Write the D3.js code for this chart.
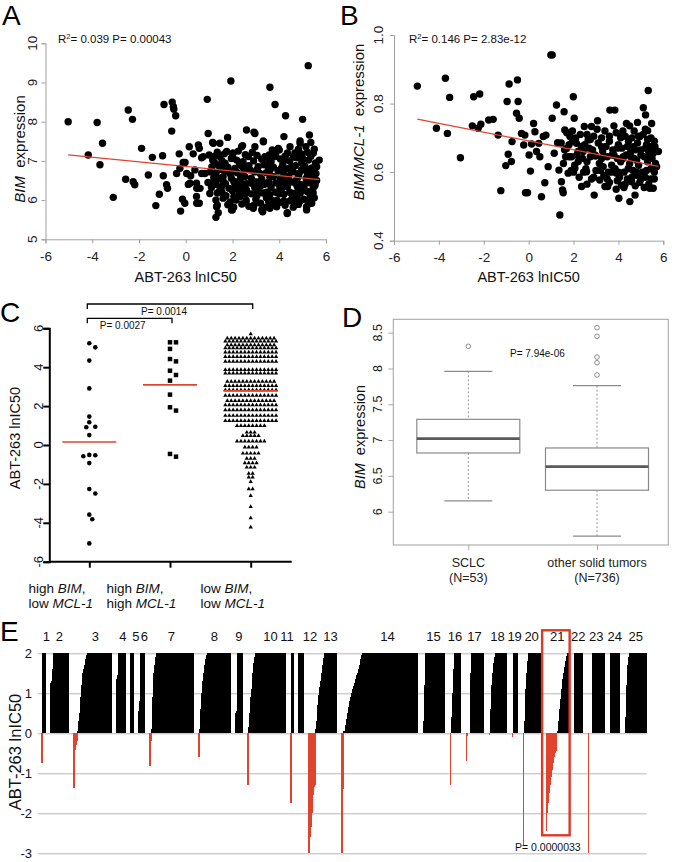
<!DOCTYPE html>
<html>
<head>
<meta charset="utf-8">
<script src="https://cdn.jsdelivr.net/npm/d3@7"></script>
<style>
  body { margin: 0; background: #fff; }
  svg { display: block; font-family: "Liberation Sans", Arial, sans-serif; }
</style>
</head>
<body>
<svg id="fig" width="675" height="862"></svg>
<script>
// ---------- data ----------

// A: ABT-263 lnIC50 vs BIM expression
const aPoints = [
  [-5.03,8.0],[-4.17,7.15],[-3.79,7.98],[-3.67,6.9],[-3.56,7.45],[-3.1,6.07],[-2.46,8.3],[-2.57,6.53],[-2.28,8.06],
  [-2.25,6.47],[-2.18,6.39],[-1.89,7.32],[-1.6,6.64],[-1.43,7.09],[-1.28,5.86],[-1.13,6.15],[-0.99,7.13],[-0.96,6.62],
  [-0.93,8.44],[-0.82,6.39],[-0.78,6.3],[-0.58,8.5],[-0.53,8.38],[-0.51,8.32],[-0.43,8.15],[-0.6,7.76],[-0.39,6.68],
  [-0.25,6.81],[-0.28,7.18],[-0.22,5.72],[-0.14,6.02],[-0.04,5.92],[-0.11,6.96],[0.04,6.68],[0.15,7.36],[0.18,6.43],
  [0.21,6.62],[0.32,7.18],[0.39,6.77],[0.46,6.43],[0.46,6.09],[0.54,7.41],[0.58,7.32],[0.61,6.3],[0.68,6.68],[0.58,5.92],
  [0.75,7.11],[0.82,6.68],[0.92,8.57],[0.96,7.7],[1.03,6.17],[1.0,7.15],[1.12,6.85],[1.18,7.45],[1.25,6.94],[1.18,6.47],
  [1.29,6.0],[1.32,5.83],[1.39,5.68],[1.29,5.56],[1.46,7.45],[1.46,7.11],[1.53,6.85],[1.53,6.34],[1.6,6.6],[1.68,6.94],
  [1.79,7.6],[1.75,7.24],[1.89,6.68],[1.93,9.04],[1.99,5.75],[2.03,7.2],[2.1,6.81],[2.18,6.3],[2.18,7.02],[2.25,6.47],
  [2.32,6.09],[2.39,7.36],[2.43,6.85],[2.53,6.6],[2.58,5.96],[2.6,7.79],[2.68,7.11],[2.75,6.77],[2.82,6.43],[2.89,5.79],
  [2.96,7.7],[2.96,7.36],[3.03,6.17],[3.1,6.85],[3.18,6.68],[3.25,5.75],[3.32,7.49],[3.39,7.11],[3.46,6.43],[3.53,6.85],
  [3.6,8.88],[3.67,6.0],[3.75,6.6],[3.82,8.44],[3.82,7.11],[3.89,5.83],[3.96,7.32],[4.03,6.77],[4.1,6.3],[4.2,7.62],
  [4.27,8.15],[4.25,7.02],[4.32,6.51],[4.35,5.68],[4.46,7.36],[4.53,6.85],[4.6,6.17],[4.67,7.2],[4.74,5.92],[4.82,6.6],
  [4.89,7.45],[4.96,6.94],[5.0,8.06],[5.06,6.34],[5.14,7.36],[5.17,5.83],[5.24,9.43],[5.29,7.66],[5.35,6.68],[5.39,6.0],
  [5.46,7.2],[5.53,6.43],[5.57,6.68],[5.71,7.02],[5.39,5.92],
  [2.92,7.73],[3.32,7.51],[4.89,7.51],[5.35,7.47],[1.15,7.47],[0.68,7.08],[-0.03,6.96],[2.43,7.39],[3.57,7.15],[4.0,7.28],
  [4.82,7.3],[5.2,7.22],[5.53,6.37],[5.17,5.75],[4.82,5.89],[4.34,5.66],[4.0,5.94],[3.6,5.79],[3.29,5.7],[2.92,5.87],
  [2.58,6.0],[2.06,6.09],[1.96,5.75],[1.35,5.87],[0.47,5.92],[0.11,6.4],[0.47,6.3],[1.46,6.26],[1.72,6.11],[2.1,6.39],
  [2.6,6.26],[3.1,6.26],[3.46,6.2],[4.03,6.3],[5.03,6.26],[5.32,6.13],[4.46,5.98],[4.25,5.87],
  [1.35,7.22],[2.25,7.25],[2.85,7.22],[3.7,7.28],[4.35,7.2],[4.95,7.18],[5.5,7.3],
  [1.15,7.02],[1.55,7.0],[1.95,7.06],[2.45,6.98],[2.9,7.0],[3.25,7.04],[3.65,6.98],[4.05,7.05],[4.45,7.0],[4.75,7.08],[5.25,7.02],[5.55,6.95],
  [1.4,6.88],[1.8,6.84],[2.3,6.9],[2.6,6.86],[3.35,6.9],[3.75,6.84],[4.15,6.9],[4.35,6.8],[4.7,6.88],[5.1,6.86],[5.4,6.82],
  [1.05,6.72],[1.3,6.7],[1.75,6.74],[2.2,6.7],[2.5,6.76],[2.95,6.72],[3.45,6.7],[3.95,6.74],[4.2,6.66],[4.6,6.72],[4.95,6.76],[5.2,6.7],
  [1.2,6.58],[1.45,6.55],[1.95,6.56],[2.35,6.6],[2.8,6.56],[3.25,6.54],[3.6,6.58],[4.05,6.55],[4.4,6.6],[4.75,6.52],[5.15,6.56],[5.45,6.58],
  [0.95,6.45],[1.7,6.42],[2.05,6.48],[2.6,6.42],[3.05,6.46],[3.35,6.4],[3.85,6.44],[4.2,6.42],[4.55,6.46],[4.9,6.4],[5.3,6.44],
  [1.1,6.32],[1.85,6.3],[2.45,6.34],[2.95,6.32],[3.65,6.32],[4.35,6.34],[4.8,6.3],[5.45,6.3],
  [1.35,6.18],[2.3,6.2],[2.8,6.16],[3.3,6.18],[3.85,6.2],[4.2,6.15],[4.9,6.18],[5.2,6.22],
  [1.6,6.05],[2.15,6.0],[3.0,6.02],[3.45,6.06],[3.9,6.0],[4.55,6.04],[5.05,6.02],[5.5,6.06],
  [1.8,5.88],[2.7,5.84],[3.8,5.88],[4.6,5.82],[5.25,5.9],
  [1.25,7.12],[1.65,7.18],[2.0,7.12],[2.55,7.16],[3.05,7.14],[3.55,7.02],[3.85,7.18],[4.25,7.12],[4.6,7.1],[5.0,7.06],[5.35,7.12],
  [1.55,6.78],[1.95,6.7],[2.7,6.88],[3.05,6.78],[3.6,6.76],[4.1,6.82],[4.5,6.76],[4.85,6.68],[5.3,6.78],[5.6,6.85],
  [1.3,6.4],[1.6,6.48],[2.35,6.45],[2.85,6.5],[3.2,6.36],[3.55,6.46],[4.0,6.4],[4.4,6.48],[4.75,6.38],[5.15,6.45],[5.6,6.5],
  [1.55,6.2],[2.0,6.24],[2.55,6.16],[3.05,6.12],[3.6,6.14],[4.0,6.16],[4.45,6.2],[4.75,6.1],[5.45,6.18],
  [1.9,5.95],[2.4,5.9],[3.2,5.92],[3.55,5.96],[4.2,5.98],[4.9,5.98],[5.3,6.02],[2.05,5.82],[3.45,5.82]
];
const aFit = { slope: -0.0585, intercept: 6.857 };
const aStat = ["= 0.039 P= 0.00043"];

// B: ABT-263 lnIC50 vs BIM/MCL-1 expression
const bPoints = [
  [-4.96,0.851],[-4.11,0.728],[-3.71,0.874],[-3.62,0.713],[-3.52,0.818],[-3.04,0.642],[-2.45,0.82],[-2.51,0.735],
  [-2.18,0.828],[-2.25,0.728],[-2.13,0.74],[-1.78,0.752],[-1.58,0.754],[-1.36,0.708],[-1.24,0.546],[-1.02,0.619],
  [-0.91,0.652],[-0.96,0.806],[-0.87,0.857],[-0.77,0.631],[-0.74,0.689],[-0.54,0.772],[-0.5,0.869],[-0.47,0.806],
  [-0.42,0.757],[-0.32,0.713],[-0.17,0.708],[-0.22,0.679],[-0.14,0.54],[-0.05,0.54],[0.02,0.65],[0.08,0.603],
  [0.13,0.682],[0.22,0.742],[0.28,0.718],[0.35,0.66],[0.45,0.684],[0.5,0.645],[0.57,0.528],[0.65,0.704],[0.72,0.569],
  [0.77,0.708],[0.87,0.616],[0.99,0.942],[1.05,0.942],[1.05,0.757],[1.14,0.655],[1.24,0.796],[1.29,0.686],[1.35,0.606],
  [1.39,0.475],[1.46,0.572],[1.51,0.548],[1.54,0.54],[1.58,0.776],[1.61,0.723],[1.69,0.669],[1.76,0.597],[1.84,0.704],
  [1.91,0.645],[1.99,0.82],[2.03,0.757],[2.06,0.611],[2.13,0.684],[2.21,0.631],[2.36,0.558],[2.43,0.66],[2.48,0.733],
  [2.58,0.601],[2.65,0.694],[2.8,0.733],[2.92,0.533],[2.98,0.647],[3.07,0.75],[3.17,0.577],[3.25,0.674],[3.32,0.616],
  [3.4,0.558],[3.52,0.558],[3.62,0.781],[3.72,0.65],[3.84,0.781],[3.92,0.597],[4.02,0.524],[4.11,0.704],[4.14,0.562],
  [4.22,0.645],[4.36,0.742],[4.44,0.611],[4.51,0.514],[4.59,0.572],[4.66,0.674],[4.74,0.533],[4.81,0.635],[4.96,0.704],
  [5.11,0.788],[5.21,0.767],[5.33,0.838],[5.3,0.721],[5.4,0.553],[5.48,0.742],[5.55,0.553],[5.63,0.674],[5.7,0.616],[5.78,0.66],
  [1.7,0.715],[2.3,0.71],[2.9,0.705],[3.4,0.72],[3.9,0.715],[4.3,0.705],[4.7,0.72],[5.1,0.71],[5.45,0.70],
  [1.45,0.685],[1.95,0.69],[2.5,0.68],[3.1,0.685],[3.6,0.69],[4.0,0.68],[4.45,0.69],[4.85,0.685],[5.25,0.68],[5.6,0.69],
  [1.6,0.665],[2.2,0.66],[2.7,0.67],[3.3,0.66],[3.75,0.665],[4.15,0.67],[4.55,0.66],[5.0,0.665],[5.35,0.66],
  [1.8,0.645],[2.4,0.64],[2.95,0.65],[3.5,0.645],[3.95,0.64],[4.35,0.65],[4.7,0.64],[5.15,0.645],[5.5,0.64],
  [1.55,0.625],[2.05,0.62],[2.6,0.63],[3.15,0.625],[3.7,0.62],[4.1,0.63],[4.5,0.625],[4.9,0.62],[5.3,0.63],[5.65,0.625],
  [1.9,0.605],[2.45,0.6],[3.0,0.605],[3.55,0.6],[3.85,0.61],[4.25,0.6],[4.65,0.605],[5.05,0.6],[5.45,0.61],
  [2.25,0.585],[2.8,0.58],[3.35,0.59],[4.05,0.585],[4.4,0.58],[4.85,0.59],[5.2,0.585],[5.6,0.58],
  [2.6,0.565],[3.6,0.57],[4.3,0.565],[4.95,0.57],[5.35,0.565],
  [4.6,0.7],[4.2,0.72],[3.8,0.735],[4.5,0.735],[4.85,0.745],[5.3,0.695],[5.55,0.655],[3.25,0.7],[2.75,0.695],[2.1,0.7],
  [1.8,0.68],[2.35,0.675],[2.85,0.665],[3.45,0.675],[3.95,0.67],[4.4,0.675],[4.75,0.665],[5.2,0.67],[5.5,0.675],
  [1.65,0.645],[2.15,0.65],[2.75,0.645],[3.25,0.64],[3.8,0.65],[4.2,0.64],[4.55,0.645],[5.0,0.65],[5.35,0.645],
  [2.0,0.6],[2.55,0.61],[3.2,0.605],[3.7,0.6],[4.0,0.6],[4.45,0.61],[4.8,0.6],[5.25,0.605],[5.6,0.6],
  [2.9,0.585],[3.5,0.58],[3.95,0.575],[4.6,0.585],[5.0,0.58],[5.45,0.58],
  [4.1,0.7],[4.9,0.705],[5.2,0.725],[3.6,0.705],[2.6,0.71],[1.95,0.72],[3.05,0.725],
  [4.25,0.555],[4.75,0.56],[5.15,0.555],[3.9,0.55]
];
const bFit = { slope: -0.0128, intercept: 0.691 };
const bStat = ["=  0.146 P= 2.83e-12"];

const scatterXTicks = [-6, -4, -2, 0, 2, 4, 6];
const aYTicks = [5, 6, 7, 8, 9, 10];
const bYTicks = [0.4, 0.6, 0.8, 1.0];

// C: lnIC50 by BIM / MCL-1 group
const cHighBimLowMcl = [5.02,5.23,4.34,2.91,1.46,1.17,0.91,0.94,0.51,-0.51,-0.58,-0.53,-0.93,-2.26,-2.49,-3.58,-3.82,-5.06];
const cHighBimHighMcl = [5.28,5.28,4.94,4.42,4.3,3.82,3.6,3.31,2.59,1.94,1.77,-0.6,-0.46];
// low BIM, low MCL-1: [value, number of triangles in the row]
const cLowLowRows = [
  [5.71,1],[5.49,13],[5.33,14],[5.14,13],[4.99,14],[4.77,14],[4.54,14],[4.29,14],[3.87,14],[3.69,14],
  [3.27,13],[3.05,14],[2.83,14],[2.54,14],[2.28,13],[2.06,14],[1.8,14],[1.51,14],[1.25,14],[0.99,8],
  [0.65,3],[0.48,5],[0.19,8],[-0.12,4],[-0.43,5],[-0.69,3],[-0.93,4],[-1.15,3],[-1.46,2],[-1.66,2],
  [-1.89,1],[-2.26,2],[-2.61,1],[-3.17,1],[-3.75,1],[-4.23,1]
];
const cYTicks = [6, 4, 2, 0, -2, -4, -6];
const cLabels = [
  [["high ", "BIM", ","], ["low ", "MCL-1", ""]],
  [["high ", "BIM", ","], ["high ", "MCL-1", ""]],
  [["low ", "BIM", ","], ["low ", "MCL-1", ""]]
];
const cTests = [ { from: 0, to: 2, p: "P= 0.0014" }, { from: 0, to: 1, p: "P= 0.0027" } ];

// D: BIM expression, SCLC vs other solid tumours
const dGroups = ["SCLC", "other solid tumors"];
const dCounts = ["(N=53)", "(N=736)"];
const dStats = [
  { q1: 6.82, med: 7.02, q3: 7.29, lo: 6.15, hi: 7.96 },
  { q1: 6.30, med: 6.63, q3: 6.89, lo: 5.66, hi: 7.76 }
];
const dOutliers = [[8.31], [8.57, 8.45, 8.16, 8.08, 7.91]];
const dYTicks = [6, 6.5, 7, 7.5, 8, 8.5];

// E: lnIC50 per tumour type, sorted; "above" = cell lines beyond the top of the axis (>= 2)
const E_TOP = 2;
const eGroups = [
  { id: "1",  low: [-0.75], above: 3 },
  { id: "2",  low: [1.25, 1.3, 1.6], above: 15 },
  { id: "3",  low: [-1.37, -0.42, -0.3, -0.2, 0.05, 0.3, 0.5, 0.9, 1.2, 1.5, 1.6, 1.7, 1.85, 1.95], above: 24 },
  { id: "4",  low: [1.35, 1.45], above: 7 },
  { id: "5",  low: [], above: 3 },
  { id: "6",  low: [0.55, 0.8], above: 4 },
  { id: "7",  low: [-0.82, -0.2, 0.1, 0.9, 1.5, 1.7, 1.9], above: 37 },
  { id: "8",  low: [-0.6, 0.1, 0.6, 1.0, 1.3, 1.5, 1.7, 1.85, 1.95], above: 23 },
  { id: "9",  low: [0.5, 0.55], above: 5 },
  { id: "10", low: [-1.3, 0.15, 0.5, 0.9, 1.1, 1.5, 1.75, 1.9], above: 30 },
  { id: "11", low: [-1.75], above: 2 },
  { id: "12", low: [], above: 5 },
  { id: "13", low: [-3.3, -2.6, -2.33, -2.0, -1.53, -1.35, -1.3, 0.1, 0.3, 0.7, 0.95, 1.15, 1.3, 1.5, 1.7, 1.88], above: 12 },
  { id: "14", low: [-3.4, -1.4, 0.05, 0.2, 0.35, 0.5, 0.65, 0.8, 0.92, 1.02, 1.1, 1.18, 1.27, 1.35, 1.45, 1.52, 1.62, 1.72, 1.85, 1.95], above: 56 },
  { id: "15", low: [0.3, 1.2], above: 20 },
  { id: "16", low: [-1.3, 0.4, 1.0, 1.6], above: 7 },
  { id: "17", low: [-0.7, -0.06, 0.01, 0.02, 1.5], above: 13 },
  { id: "18", low: [-0.05, 0.6, 1.2, 1.5, 1.75, 1.9], above: 12 },
  { id: "19", low: [-0.1], above: 5 },
  { id: "20", low: [-2.8, 0.3, 1.1, 1.5, 1.8], above: 13 },
  { id: "21", low: [-2.45, -2.0, -1.75, -1.5, -1.3, -1.1, -0.92, -0.75, -0.6, -0.5, -0.45, 0.05, 0.3, 0.6, 0.85, 1.1, 1.35, 1.5, 1.65, 1.8, 1.93], above: 2 },
  { id: "22", low: [], above: 9 },
  { id: "23", low: [-3.5, 0, 0, 0.01], above: 13 },
  { id: "24", low: [], above: 10 },
  { id: "25", low: [0.4, 1.2, 1.7, 1.9], above: 18 }
];
const eYTicks = [2, 1, 0, -1, -2, -3];
const eHighlight = "21";
const eStat = "P= 0.0000033";

// ---------- drawing ----------
const RED = "#e0442f";
const svg = d3.select("#fig");
svg.append("rect").attr("width", 675).attr("height", 862).attr("fill", "#fff");

function letter(t, x, y) {
  svg.append("text").attr("x", x).attr("y", y).attr("font-size", 28).text(t);
}

// rotated text, centred on (x, y)
function vText(x, y, size) {
  return svg.append("text")
    .attr("transform", "translate(" + x + "," + y + ") rotate(-90)")
    .attr("text-anchor", "middle").attr("dy", "0.35em")
    .attr("font-size", size).attr("fill", "#111");
}

function cleanAxis(a, color) {
  a.attr("font-family", null).attr("font-size", null);
  a.selectAll("path, line").attr("stroke", color);
}

function scatter(cfg) {
  const x = d3.scaleLinear().domain([-6, 6]).range(cfg.xRange);
  const y = d3.scaleLinear().domain(cfg.yDom).range(cfg.yRange);

  const ax = svg.append("g")
    .attr("transform", "translate(0," + cfg.yRange[0] + ")")
    .call(d3.axisBottom(x).tickValues(scatterXTicks).tickSize(4).tickPadding(8).tickFormat(d => String(d)));
  cleanAxis(ax, "#a0a0a0");
  ax.selectAll("text").attr("font-size", 13.5).attr("fill", "#222");

  const ay = svg.append("g")
    .attr("transform", "translate(" + cfg.xRange[0] + ",0)")
    .call(d3.axisLeft(y).tickValues(cfg.yTicks).tickSize(4).tickFormat(""));
  cleanAxis(ay, "#a0a0a0");

  svg.append("g").selectAll("text").data(cfg.yTicks).join("text")
    .attr("transform", d => "translate(" + cfg.yTickX + "," + y(d) + ") rotate(-90)")
    .attr("text-anchor", "middle").attr("dy", "0.35em")
    .attr("font-size", 13.5).attr("fill", "#222")
    .text(cfg.yFmt);

  svg.append("g").selectAll("circle").data(cfg.points).join("circle")
    .attr("cx", d => x(d[0])).attr("cy", d => y(d[1]))
    .attr("r", 3.7).attr("fill", "#000");

  const [x0, x1] = d3.extent(cfg.points, d => d[0]);
  svg.append("line")
    .attr("x1", x(x0)).attr("y1", y(cfg.fit.intercept + cfg.fit.slope * x0))
    .attr("x2", x(x1)).attr("y2", y(cfg.fit.intercept + cfg.fit.slope * x1))
    .attr("stroke", RED).attr("stroke-width", 1.3);

  const st = svg.append("text").attr("x", cfg.statX).attr("y", 43).attr("font-size", 11.5).attr("fill", "#111");
  st.append("tspan").text("R");
  st.append("tspan").attr("font-size", 7.5).attr("dy", -4.5).text("2");
  st.append("tspan").attr("dy", 4.5).text(cfg.stat[0]);

  svg.append("text")
    .attr("x", (cfg.xRange[0] + cfg.xRange[1]) / 2).attr("y", 282)
    .attr("text-anchor", "middle").attr("font-size", 14.5).attr("fill", "#111")
    .text("ABT-263 lnIC50");

  const yt = vText(cfg.titleX, cfg.titleY, 15);
  yt.append("tspan").attr("font-style", "italic").text(cfg.titleItalic);
  yt.append("tspan").text("\u00a0 expression");
}

// ----- A -----
letter("A", 2, 25);
scatter({
  points: aPoints, fit: aFit, stat: aStat,
  xRange: [45.5, 326], yDom: [5, 10], yRange: [239.3, 43.3],
  yTicks: aYTicks, yFmt: d => String(d), yTickX: 32,
  statX: 58, titleX: 20, titleY: 149, titleItalic: "BIM"
});

// ----- B -----
letter("B", 340, 25);
scatter({
  points: bPoints, fit: bFit, stat: bStat,
  xRange: [394, 663.3], yDom: [0.4, 1.0], yRange: [240.7, 35],
  yTicks: bYTicks, yFmt: d3.format(".1f"), yTickX: 378,
  statX: 409, titleX: 359, titleY: 122, titleItalic: "BIM/MCL-1"
});

// ----- C -----
letter("C", 0, 322);
const yC = d3.scaleLinear().domain([-6, 6]).range([561.7, 328.3]);
const xC = d3.scalePoint().domain([0, 1, 2]).range([89.3, 250.7]);

const cxAxis = svg.append("g").attr("transform", "translate(0,561.7)")
  .call(d3.axisBottom(xC).tickSize(6).tickFormat(""));
cleanAxis(cxAxis, "#000");
cxAxis.select(".domain").attr("d", "M49.3,0H291.7");
cxAxis.selectAll("path, line").attr("stroke-width", 2);

const cyAxis = svg.append("g").attr("transform", "translate(49.3,0)")
  .call(d3.axisLeft(yC).tickValues(cYTicks).tickSize(6).tickFormat(""));
cleanAxis(cyAxis, "#000");
cyAxis.selectAll("path, line").attr("stroke-width", 2);

svg.append("g").selectAll("text").data(cYTicks).join("text")
  .attr("transform", d => "translate(38.5," + yC(d) + ") rotate(-90)")
  .attr("text-anchor", "middle").attr("dy", "0.35em")
  .attr("font-size", 13).attr("fill", "#111")
  .text(d => String(d));

vText(15, 438, 14.5).text("ABT-263 lnIC50");

// beeswarm for the small groups: nudge points sideways until they stop overlapping
function swarm(values, diam, step) {
  const placed = [];
  return values.map((v, i) => ({ v, i }))
    .sort((a, b) => b.v - a.v)
    .map(p => {
      const py = yC(p.v);
      let off = 0;
      for (let k = 0; k < 40; k++) {
        off = k === 0 ? 0 : (k % 2 ? 1 : -1) * Math.ceil(k / 2) * step;
        if (placed.every(q => Math.hypot(q.dx - off, q.y - py) >= diam)) break;
      }
      const out = { v: p.v, dx: off, y: py };
      placed.push(out);
      return out;
    });
}

const g1 = swarm(cHighBimLowMcl, 5.5, 3);
svg.append("g").selectAll("circle").data(g1).join("circle")
  .attr("cx", d => xC(0) + d.dx).attr("cy", d => d.y).attr("r", 2.3).attr("fill", "#000");

const g2 = swarm(cHighBimHighMcl, 5.5, 3);
svg.append("g").selectAll("path").data(g2).join("path")
  .attr("transform", d => "translate(" + (xC(1) + d.dx) + "," + d.y + ")")
  .attr("d", d3.symbol(d3.symbolSquare, 20)).attr("fill", "#000");

const g3 = cLowLowRows.flatMap(([v, n]) =>
  d3.range(n).map(j => ({ v, dx: (j - (n - 1) / 2) * 3.9 })));
svg.append("g").selectAll("path").data(g3).join("path")
  .attr("transform", d => "translate(" + (xC(2) + d.dx) + "," + yC(d.v) + ")")
  .attr("d", d3.symbol(d3.symbolTriangle, 8)).attr("fill", "#000");

const cMeans = [
  d3.mean(cHighBimLowMcl),
  d3.mean(cHighBimHighMcl),
  d3.sum(cLowLowRows, r => r[0] * r[1]) / d3.sum(cLowLowRows, r => r[1])
];
svg.append("g").selectAll("line").data(cMeans).join("line")
  .attr("x1", (d, i) => xC(i) - 27).attr("x2", (d, i) => xC(i) + 27)
  .attr("y1", d => yC(d)).attr("y2", d => yC(d))
  .attr("stroke", RED).attr("stroke-width", 1.6);

// significance brackets
cTests.forEach((t, k) => {
  const by = k === 0 ? 304 : 318.3;
  const xa = xC(t.from) - 2, xb = xC(t.to) + 2;
  svg.append("path")
    .attr("d", "M" + xa + "," + (by + 5) + "V" + by + "H" + xb + "V" + (by + 5))
    .attr("fill", "none").attr("stroke", "#000").attr("stroke-width", 1.3);
  svg.append("text").attr("x", k === 0 ? 164 : 122.7).attr("y", by + 10.5)
    .attr("text-anchor", "middle").attr("font-size", 10).attr("fill", "#111").text(t.p);
});

// group labels (two lines, gene names in italics)
cLabels.forEach((lines, i) => {
  const t = svg.append("text").attr("font-size", 13.5).attr("fill", "#111");
  lines.forEach((parts, li) => {
    const first = t.append("tspan").attr("y", 592.5 + li * 15).text(parts[0]);
    t.append("tspan").attr("font-style", "italic").text(parts[1]);
    if (parts[2]) t.append("tspan").text(parts[2]);
    first.attr("class", "line" + li);
  });
  const w = t.node().getBBox().width;
  t.selectAll(".line0, .line1").attr("x", xC(i) - w / 2 + (i === 2 ? 8 : 0));
});

// ----- D -----
letter("D", 342, 327);
const yD = d3.scaleLinear().domain([6, 8.5]).range([511.7, 332.7]);
const xD = d3.scalePoint().domain(dGroups).range([468.3, 597]);
const boxHalf = 51.5, capHalf = 24;

svg.append("rect").attr("x", 393.3).attr("y", 319.3).attr("width", 275).attr("height", 225.7)
  .attr("fill", "none").attr("stroke", "#a8a8a8").attr("stroke-width", 1.1);

const dyAxis = svg.append("g").attr("transform", "translate(393.3,0)")
  .call(d3.axisLeft(yD).tickValues(dYTicks).tickSize(5).tickFormat(""));
cleanAxis(dyAxis, "#a8a8a8");
dyAxis.select(".domain").remove();

const dxAxis = svg.append("g").attr("transform", "translate(0,545)")
  .call(d3.axisBottom(xD).tickSize(5).tickFormat(""));
cleanAxis(dxAxis, "#a8a8a8");
dxAxis.select(".domain").remove();

svg.append("g").selectAll("text").data(dYTicks).join("text")
  .attr("transform", d => "translate(378," + yD(d) + ") rotate(-90)")
  .attr("text-anchor", "middle").attr("dy", "0.35em")
  .attr("font-size", 12.5).attr("fill", "#222").text(d => String(d));

const dT = vText(360, 437, 14.5);
dT.append("tspan").attr("font-style", "italic").text("BIM");
dT.append("tspan").text("\u00a0 expression");

dGroups.forEach((name, i) => {
  const s = dStats[i], cx = xD(name);
  const g = svg.append("g");
  g.append("line").attr("x1", cx).attr("x2", cx).attr("y1", yD(s.hi)).attr("y2", yD(s.q3))
    .attr("stroke", "#999").attr("stroke-dasharray", "2,2");
  g.append("line").attr("x1", cx).attr("x2", cx).attr("y1", yD(s.q1)).attr("y2", yD(s.lo))
    .attr("stroke", "#999").attr("stroke-dasharray", "2,2");
  [s.hi, s.lo].forEach(v => g.append("line")
    .attr("x1", cx - capHalf).attr("x2", cx + capHalf).attr("y1", yD(v)).attr("y2", yD(v))
    .attr("stroke", "#8a8a8a").attr("stroke-width", 1.2));
  g.append("rect").attr("x", cx - boxHalf).attr("y", yD(s.q3))
    .attr("width", boxHalf * 2).attr("height", yD(s.q1) - yD(s.q3))
    .attr("fill", "#fff").attr("stroke", "#8a8a8a").attr("stroke-width", 1.2);
  g.append("line").attr("x1", cx - boxHalf).attr("x2", cx + boxHalf)
    .attr("y1", yD(s.med)).attr("y2", yD(s.med))
    .attr("stroke", "#5a5a5a").attr("stroke-width", 2.6);
  g.selectAll("circle").data(dOutliers[i]).join("circle")
    .attr("cx", cx).attr("cy", d => yD(d)).attr("r", 2.3)
    .attr("fill", "none").attr("stroke", "#8a8a8a").attr("stroke-width", 1);
  svg.append("text").attr("x", cx).attr("y", 567).attr("text-anchor", "middle")
    .attr("font-size", 12.5).attr("fill", "#222").text(name);
  svg.append("text").attr("x", cx).attr("y", 582).attr("text-anchor", "middle")
    .attr("font-size", 12.5).attr("fill", "#222").text(dCounts[i]);
});

svg.append("text").attr("x", 510).attr("y", 357).attr("font-size", 10).attr("fill", "#111").text("P= 7.94e-06");

// ----- E -----
letter("E", 0, 641);
const E_GAP = 5;
let cursor = 0;
eGroups.forEach(g => {
  g.vals = g.low.concat(Array(g.above).fill(E_TOP));
  g.start = cursor;
  cursor += g.vals.length + E_GAP;
});
const eTotal = cursor - E_GAP;

const xE = d3.scaleLinear().domain([0, eTotal]).range([41.3, 646.7]);
const yE = d3.scaleLinear().domain([-3, 2]).range([853.3, 653.3]).clamp(true);

const eGrid = svg.append("g").attr("transform", "translate(38,0)")
  .call(d3.axisLeft(yE).tickValues(eYTicks).tickSize(-(646.7 - 38)).tickPadding(6).tickFormat(d => String(d)));
cleanAxis(eGrid, "#b8b8b8");
eGrid.select(".domain").remove();
eGrid.selectAll("text").attr("font-size", 13).attr("fill", "#111");

vText(15, 752, 16.5).text("ABT-263 lnIC50");

const eBars = eGroups.flatMap(g => g.vals.map((v, j) => ({ i: g.start + j, v })));
const step = xE(1) - xE(0);
svg.append("g").attr("shape-rendering", "crispEdges")
  .selectAll("rect").data(eBars).join("rect")
  .attr("x", d => xE(d.i))
  .attr("width", step + 0.3)
  .attr("y", d => d.v >= 0 ? yE(d.v) : yE(0))
  .attr("height", d => Math.abs(yE(d.v) - yE(0)))
  .attr("fill", d => d.v >= 0 ? "#000" : RED);

// the group numbers are hand-placed in the original, a few sit off-centre
const eLabelNudge = { "1": 3, "3": 3, "4": 2, "5": 4, "6": 3, "10": 4, "11": -5, "12": 9, "13": 8, "14": 8 };
svg.append("g").selectAll("text").data(eGroups).join("text")
  .attr("x", g => xE(g.start + g.vals.length / 2) + (eLabelNudge[g.id] || 0))
  .attr("y", 641).attr("text-anchor", "middle")
  .attr("font-size", 13).attr("fill", "#111")
  .text(g => g.id);

const hl = eGroups.find(g => g.id === eHighlight);
svg.append("rect")
  .attr("x", xE(hl.start) - 3.5).attr("y", yE(2) - 23)
  .attr("width", xE(hl.start + hl.vals.length) - xE(hl.start) + 4.5)
  .attr("height", yE(-2.55) - yE(2) + 23)
  .attr("fill", "none").attr("stroke", "#d93a2b").attr("stroke-width", 2.4);

svg.append("text").attr("x", 515).attr("y", 851).attr("font-size", 10.5).attr("fill", "#111").text(eStat);
</script>
</body>
</html>
